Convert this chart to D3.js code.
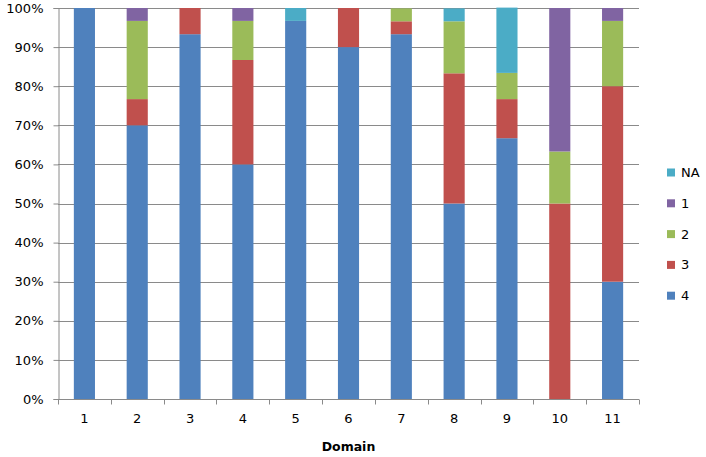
<!DOCTYPE html>
<html><head><meta charset="utf-8">
<script src="https://cdn.jsdelivr.net/npm/d3@7"></script>
<style>body{margin:0;background:#fff}svg{display:block}text{font-family:"DejaVu Sans",Verdana,sans-serif}</style>
</head><body>
<svg id="c" width="706" height="457"></svg>
<script>
const domains = ["1","2","3","4","5","6","7","8","9","10","11"];
const seriesNames = ["4","3","2","1","NA"];
const s4  = [100, 70, 93.3, 60, 96.7, 90, 93.3, 50, 66.7, 0, 30];
const s3  = [0, 6.7, 6.7, 26.7, 0, 10, 3.3, 33.3, 10, 50, 50];
const s2  = [0, 20, 0, 10, 0, 0, 3.3, 13.3, 6.7, 13.3, 16.7];
const s1  = [0, 3.3, 0, 3.3, 0, 0, 0, 0, 0, 36.7, 3.3];
const sNA = [0, 0, 0, 0, 3.3, 0, 0, 3.3, 16.7, 0, 0];
const yTicks = [0,10,20,30,40,50,60,70,80,90,100];
const colors = {"4":"#4F81BD","3":"#C0504D","2":"#9BBB59","1":"#8064A2","NA":"#4BACC6"};
const legendOrder = ["NA","1","2","3","4"];

const svgEl = d3.select("#c");
const m = {l:58, r:639, t:8, b:399};
const table = domains.map((d,i)=>({domain:d,"4":s4[i],"3":s3[i],"2":s2[i],"1":s1[i],"NA":sNA[i]}));
const stack = d3.stack().keys(seriesNames)(table);

const x = d3.scaleBand().domain(domains).range([m.l,m.r]).paddingInner(0.6).paddingOuter(0.3);
const y = d3.scaleLinear().domain([0,100]).range([m.b,m.t]);
const axisColor = "#8a8a8a";

// gridlines
svgEl.append("g").selectAll("line").data(yTicks.filter(t=>t>0)).join("line")
  .attr("x1",m.l).attr("x2",m.r).attr("y1",d=>Math.round(y(d))+0.5).attr("y2",d=>Math.round(y(d))+0.5)
  .attr("stroke",axisColor).attr("stroke-width",1);

// bars
svgEl.append("g").selectAll("g").data(stack).join("g").attr("fill",d=>colors[d.key])
  .selectAll("rect").data(d=>d).join("rect")
  .attr("x",d=>x(d.data.domain)).attr("width",x.bandwidth())
  .attr("y",d=>y(d[1])).attr("height",d=>y(d[0])-y(d[1]));

// y axis
const yAxis = svgEl.append("g").attr("transform",`translate(${m.l+0.5},0)`)
  .call(d3.axisLeft(y).tickValues(yTicks).tickFormat(d=>d+"%").tickSize(5).tickPadding(10));
yAxis.select(".domain").attr("stroke",axisColor);
yAxis.selectAll(".tick line").attr("stroke",axisColor);
yAxis.selectAll("text").attr("font-size","13px").attr("fill","#000").attr("font-family","DejaVu Sans");

// x axis
const xAxis = svgEl.append("g").attr("transform",`translate(0,${m.b+0.5})`)
  .call(d3.axisBottom(x).tickSize(0).tickPadding(14));
xAxis.select(".domain").attr("stroke",axisColor).attr("d",`M${m.l},0H${m.r}`);
xAxis.selectAll("text").attr("font-size","13px").attr("fill","#000").attr("font-family","DejaVu Sans");
const bounds = d3.range(domains.length+1).map(i=>m.l + i*(m.r-m.l)/domains.length);
xAxis.append("g").selectAll("line").data(bounds).join("line")
  .attr("x1",d=>Math.round(d)+0.5).attr("x2",d=>Math.round(d)+0.5).attr("y1",0).attr("y2",5)
  .attr("stroke",axisColor);

svgEl.append("text").attr("x",(m.l+m.r)/2).attr("y",451).attr("text-anchor","middle")
  .attr("font-size","12.5px").attr("font-weight","bold").text("Domain");

// legend
const lg = svgEl.append("g").selectAll("g").data(legendOrder).join("g")
  .attr("transform",(d,i)=>`translate(667,${172.5+i*30.8})`);
lg.append("rect").attr("x",0).attr("y",-4).attr("width",8).attr("height",8).attr("fill",d=>colors[d]);
lg.append("text").attr("x",14).attr("y",0).attr("dy","0.35em").attr("font-size","13px").text(d=>d);
</script>
</body></html>
